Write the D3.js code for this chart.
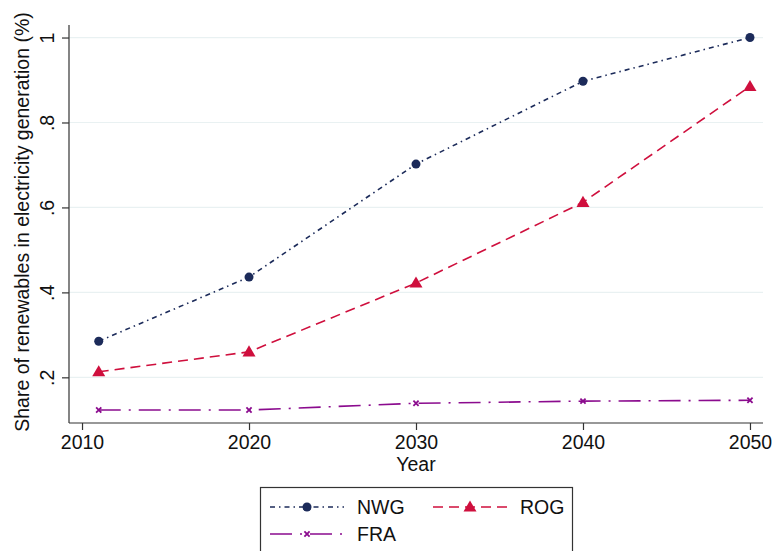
<!DOCTYPE html>
<html>
<head>
<meta charset="utf-8">
<script src="https://cdn.jsdelivr.net/npm/d3@7"></script>
<style>
  html, body { margin: 0; padding: 0; background: #fff; }
  svg { display: block; font-family: "Liberation Sans", Arial, sans-serif; }
</style>
</head>
<body>
<svg id="chart" width="774" height="551"></svg>
<script>
// Share of renewables in electricity generation, by scenario
const years = [2011, 2020, 2030, 2040, 2050];
const nwg = [0.285, 0.436, 0.702, 0.897, 1.0];
const rog = [0.213, 0.260, 0.422, 0.612, 0.885];
const fra = [0.123, 0.123, 0.139, 0.144, 0.146];
const xTicks = [2010, 2020, 2030, 2040, 2050];
const yTicks = [0.2, 0.4, 0.6, 0.8, 1.0];
const yTickLabels = [".2", ".4", ".6", ".8", "1"];
const seriesNames = ["NWG", "ROG", "FRA"];

const series = [
  { name: seriesNames[0], values: nwg, color: "#1c2b5a", dash: "5,4,1.5,4", marker: "circle" },
  { name: seriesNames[1], values: rog, color: "#cf0f3d", dash: "10,6", marker: "triangle" },
  { name: seriesNames[2], values: fra, color: "#8b0b8e", dash: "22,8,2,8", marker: "x" }
];

const FS = 19.5;
const svg = d3.select("#chart");
const plot = { left: 69, right: 763, top: 25, bottom: 423 };

const x = d3.scaleLinear().domain([2009.22, 2050.78]).range([plot.left, plot.right]);
const y = d3.scaleLinear().domain([0.0925, 1.0295]).range([plot.bottom, plot.top]);

// gridlines
svg.append("g").selectAll("line").data(yTicks).join("line")
  .attr("x1", plot.left).attr("x2", plot.right)
  .attr("y1", d => y(d)).attr("y2", d => y(d))
  .attr("stroke", "#e9f1f2").attr("stroke-width", 1.2);

// y axis
const yAxis = svg.append("g").attr("transform", `translate(${plot.left},0)`)
  .call(d3.axisLeft(y).tickValues(yTicks).tickSize(7).tickPadding(8)
    .tickFormat((d, i) => yTickLabels[i]));
yAxis.select(".domain").attr("stroke", "#333").attr("stroke-width", 1.2)
  .attr("d", `M0,${plot.top}V${plot.bottom}`);
yAxis.selectAll(".tick line").attr("stroke", "#333").attr("stroke-width", 1.2);
yAxis.selectAll(".tick text")
  .attr("font-size", FS).attr("fill", "#111")
  .attr("transform", "rotate(-90)")
  .attr("x", 0).attr("y", -15)
  .attr("text-anchor", "middle").attr("dy", 0);

// x axis
const xAxis = svg.append("g").attr("transform", `translate(0,${plot.bottom})`)
  .call(d3.axisBottom(x).tickValues(xTicks).tickSize(7).tickPadding(5)
    .tickFormat(d3.format("d")));
xAxis.select(".domain").attr("stroke", "#333").attr("stroke-width", 1.2)
  .attr("d", `M${plot.left},0H${plot.right}`);
xAxis.selectAll(".tick line").attr("stroke", "#333").attr("stroke-width", 1.2);
xAxis.selectAll(".tick text").attr("font-size", FS).attr("fill", "#111");

// axis titles
svg.append("text").attr("x", (plot.left + plot.right) / 2).attr("y", 471)
  .attr("text-anchor", "middle").attr("font-size", FS).attr("fill", "#111").text("Year");
svg.append("text")
  .attr("transform", `translate(29,${(plot.top + plot.bottom) / 2 - 2}) rotate(-90)`)
  .attr("text-anchor", "middle").attr("font-size", FS).attr("fill", "#111")
  .text("Share of renewables in electricity generation (%)");

const line = d3.line().x((d, i) => x(years[i])).y(d => y(d));

function drawMarker(g, type, cx, cy, color) {
  if (type === "circle") {
    g.append("circle").attr("cx", cx).attr("cy", cy).attr("r", 4.5).attr("fill", color);
  } else if (type === "triangle") {
    const s = 6.5;
    g.append("path")
      .attr("d", `M${cx},${cy - s}L${cx + s},${cy + s * 0.7}L${cx - s},${cy + s * 0.7}Z`)
      .attr("fill", color);
  } else {
    const s = 2.6;
    g.append("path")
      .attr("d", `M${cx - s},${cy - s}L${cx + s},${cy + s}M${cx - s},${cy + s}L${cx + s},${cy - s}`)
      .attr("stroke", color).attr("stroke-width", 1.8);
  }
}

series.forEach(s => {
  svg.append("path").datum(s.values)
    .attr("d", line).attr("fill", "none")
    .attr("stroke", s.color).attr("stroke-width", 1.6)
    .attr("stroke-dasharray", s.dash);
  const g = svg.append("g");
  s.values.forEach((v, i) => drawMarker(g, s.marker, x(years[i]), y(v), s.color));
});

// legend
const lg = svg.append("g");
lg.append("rect").attr("x", 260.5).attr("y", 487.5).attr("width", 312).attr("height", 70)
  .attr("fill", "#fff").attr("stroke", "#333").attr("stroke-width", 1.2);
const legendPos = [
  { x: 270, y: 507 },
  { x: 433, y: 507 },
  { x: 270, y: 534 }
];
series.forEach((s, i) => {
  const p = legendPos[i];
  lg.append("line").attr("x1", p.x).attr("x2", p.x + 74)
    .attr("y1", p.y).attr("y2", p.y)
    .attr("stroke", s.color).attr("stroke-width", 1.6)
    .attr("stroke-dasharray", s.dash);
  drawMarker(lg, s.marker, p.x + 37, p.y, s.color);
  lg.append("text").attr("x", p.x + 87).attr("y", p.y + 7)
    .attr("font-size", FS).attr("fill", "#111").text(s.name);
});
</script>
</body>
</html>
